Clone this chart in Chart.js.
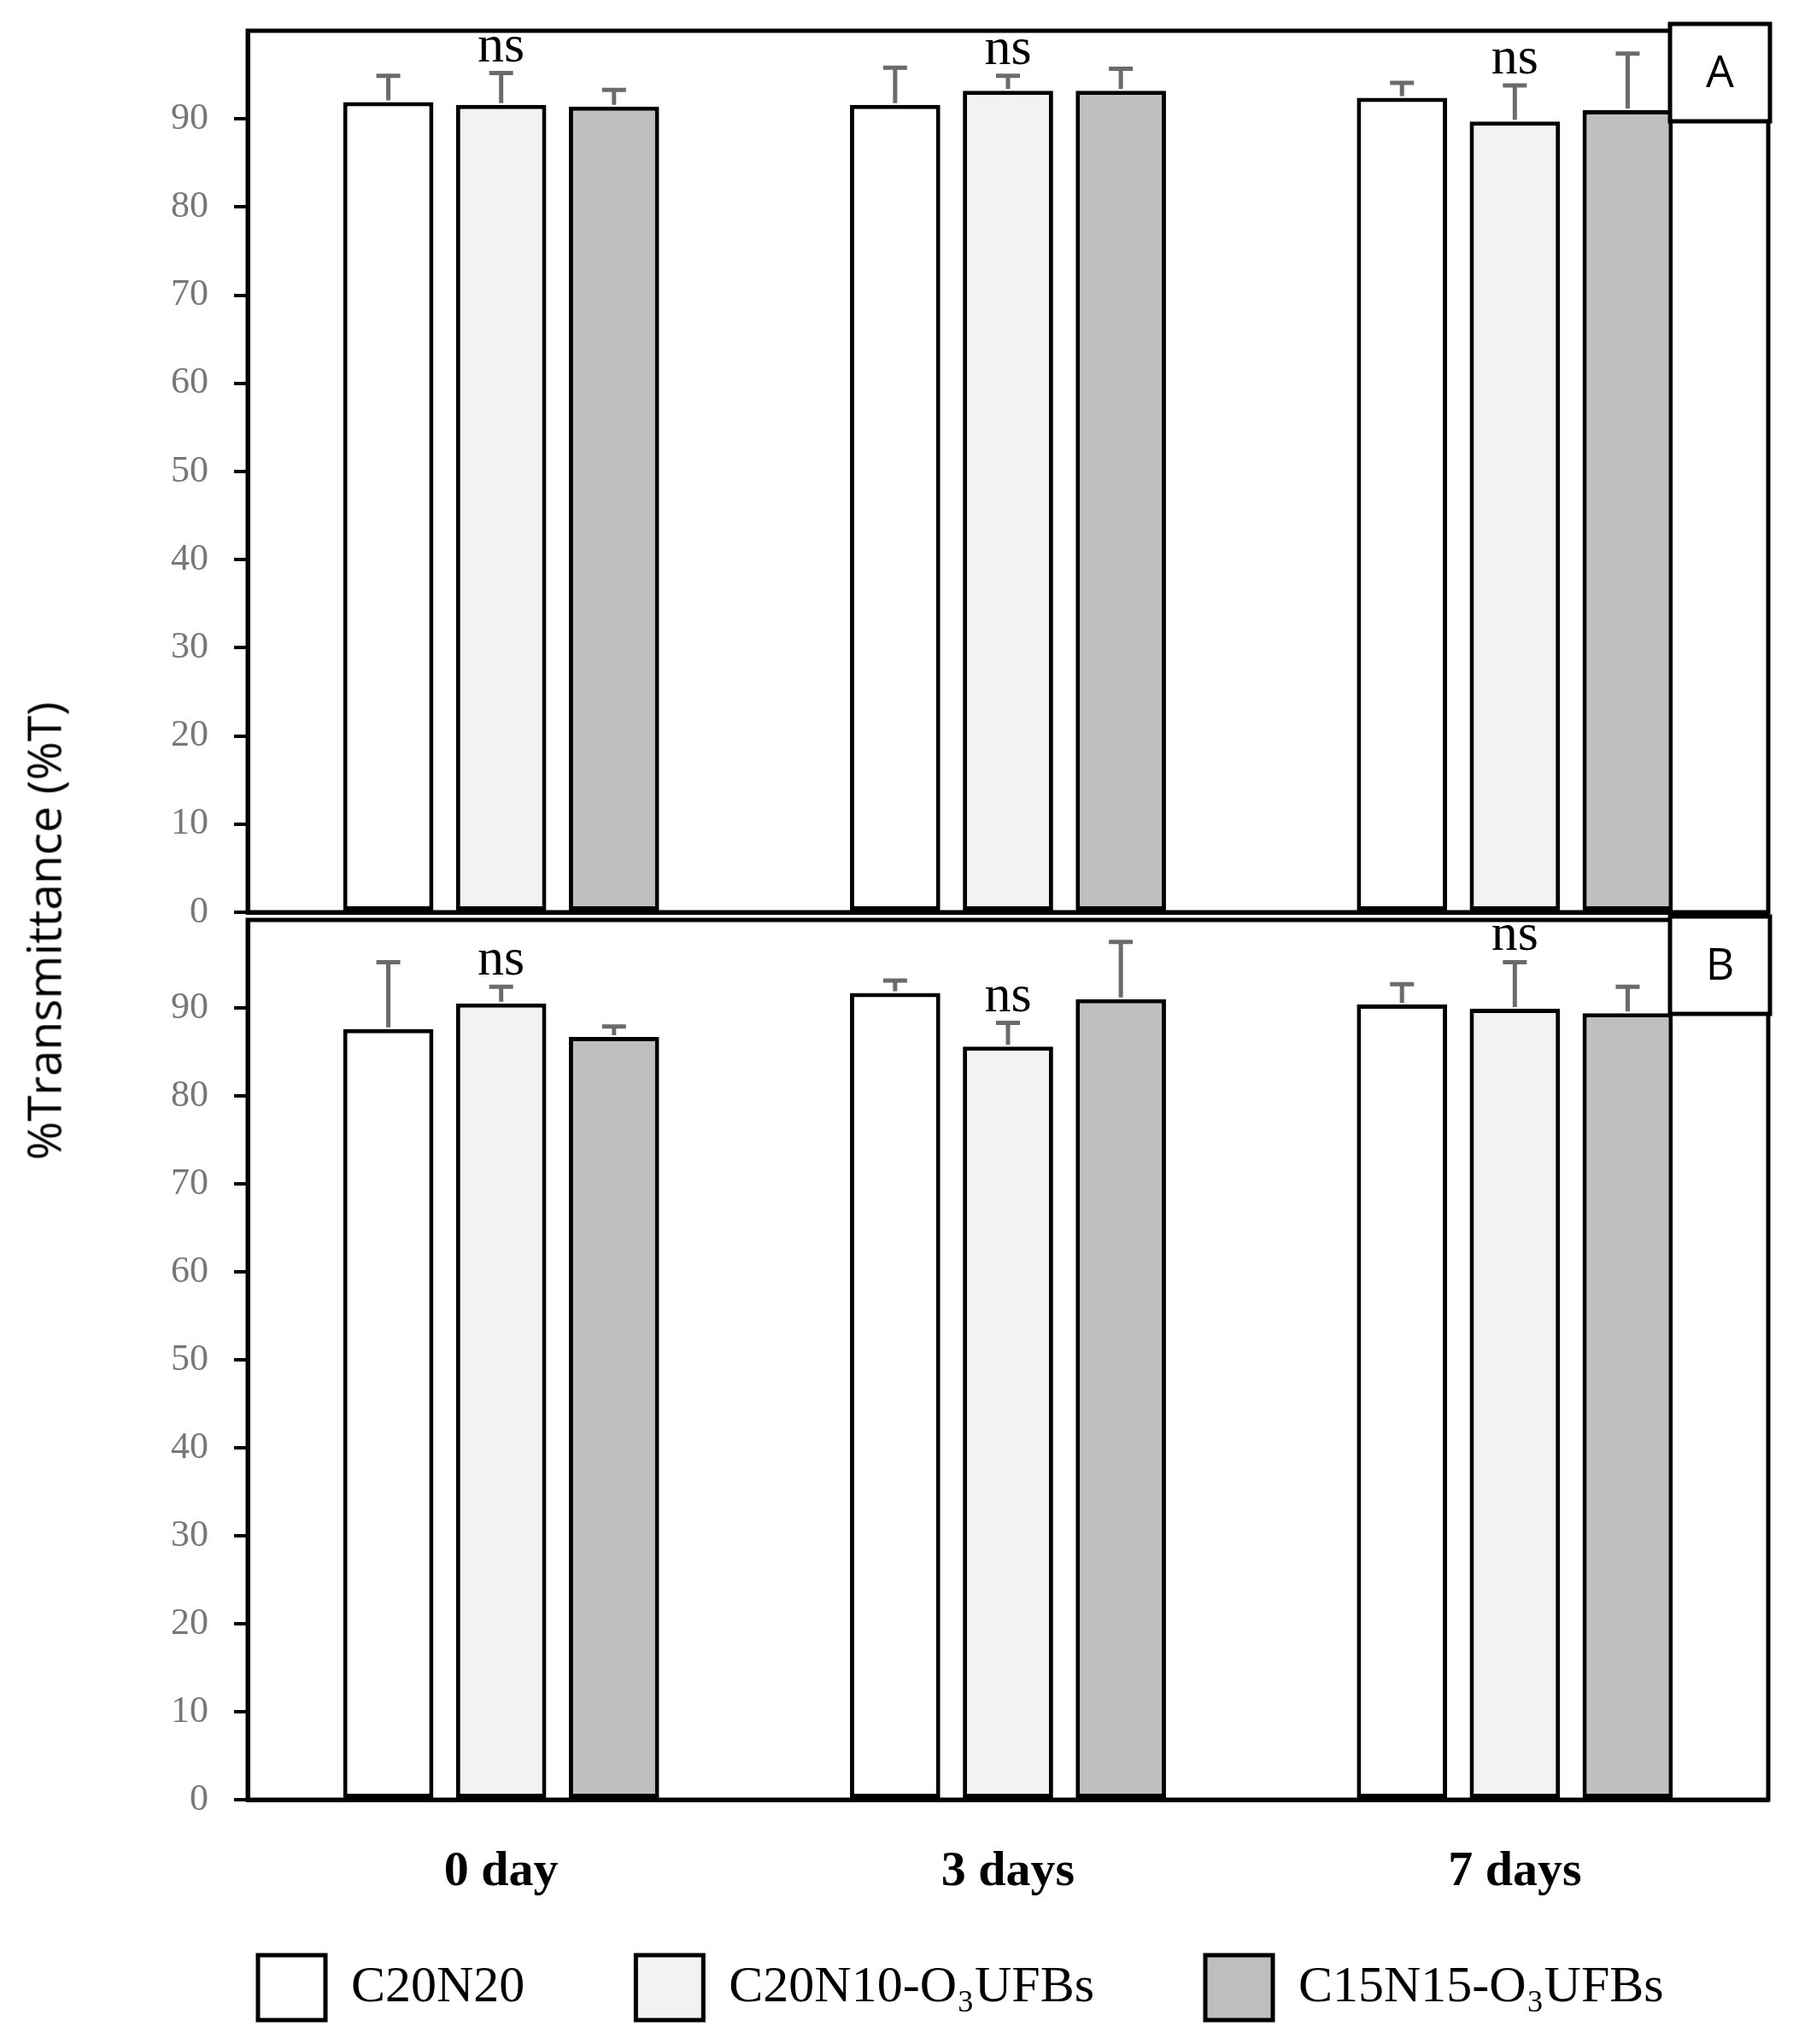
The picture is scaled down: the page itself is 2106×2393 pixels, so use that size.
<!DOCTYPE html>
<html>
<head>
<meta charset="utf-8">
<script src="https://cdn.jsdelivr.net/npm/chart.js@4.4.1/dist/chart.umd.min.js"></script>
<style>
  * { box-sizing: border-box; }
  body { margin: 0; background: #ffffff; width: 2106px; height: 2393px; position: relative; overflow: hidden; }
  .panel { position: absolute; left: 0; width: 2106px; }
  #panelA { top: 0; height: 1100px; }
  #panelB { top: 1070px; height: 1323px; }
  .ytitle {
    position: absolute;
    left: 50px;
    top: 1090px;
    transform: translate(-50%, -50%) rotate(-90deg);
    white-space: nowrap;
    font-family: 'Open Sans', sans-serif;
    font-size: 55px;
    color: #000;
  }
</style>
</head>
<body>
<div class="panel" id="panelA"><canvas id="chartA"></canvas></div>
<div class="panel" id="panelB"><canvas id="chartB"></canvas></div>
<div class="ytitle">%Transmittance (%T)</div>

<script>
const days = ["0 day", "3 days", "7 days"];
const seriesNames = ["C20N20", "C20N10-O\u2083UFBs", "C15N15-O\u2083UFBs"];
const seriesColors = ["#ffffff", "#f2f2f2", "#bfbfbf"];
const yTicks = [0, 10, 20, 30, 40, 50, 60, 70, 80, 90];

// panel A
const aC20N20 = [91.9, 91.6, 92.4];
const aC20N10 = [91.6, 93.2, 89.7];
const aC15N15 = [91.4, 93.2, 91.0];
const aErrC20N20 = [3.0, 4.2, 1.7];
const aErrC20N10 = [3.6, 1.7, 4.1];
const aErrC15N15 = [1.9, 2.5, 6.4];
const aSig = ["ns", "ns", "ns"];

// panel B
const bC20N20 = [87.6, 91.7, 90.4];
const bC20N10 = [90.5, 85.6, 89.9];
const bC15N15 = [86.7, 91.0, 89.4];
const bErrC20N20 = [7.6, 1.4, 2.3];
const bErrC20N10 = [1.9, 2.7, 5.3];
const bErrC15N15 = [1.2, 6.5, 3.0];
const bSig = ["ns", "ns", "ns"];

const serif = "'Liberation Serif', 'Times New Roman', serif";

function makeDatasets(values, errors) {
  return values.map((vals, i) => ({
    label: seriesNames[i],
    data: vals,
    errors: errors[i],
    backgroundColor: seriesColors[i],
    borderColor: "#000000",
    borderWidth: 5,
    borderSkipped: false,
    categoryPercentage: 0.668,
    barPercentage: 0.8
  }));
}

function noPad(scale) {
  scale.paddingTop = 0;
  scale.paddingBottom = 0;
  scale.paddingLeft = 0;
  scale.paddingRight = 0;
}

// frame, error bars, "ns" marks and the panel letter box
const panelExtras = {
  id: "panelExtras",
  afterLayout(chart) {
    // let the x labels hang below the (short) axis box
    chart.scales.x.bottom = chart.height;
  },
  afterDatasetsDraw(chart, args, opts) {
    const ctx = chart.ctx;
    const area = chart.chartArea;
    const y = chart.scales.y;
    ctx.save();

    ctx.strokeStyle = "#000";
    ctx.lineWidth = 5;
    ctx.strokeRect(area.left, area.top, area.right - area.left, area.bottom - area.top);

    ctx.strokeStyle = "#6b6b6b";
    ctx.lineWidth = 5;
    chart.data.datasets.forEach((ds, i) => {
      const meta = chart.getDatasetMeta(i);
      meta.data.forEach((bar, j) => {
        const top = y.getPixelForValue(ds.data[j]);
        const cap = y.getPixelForValue(ds.data[j] + ds.errors[j]);
        ctx.beginPath();
        ctx.moveTo(bar.x, top - 2);
        ctx.lineTo(bar.x, cap);
        ctx.moveTo(bar.x - 14, cap);
        ctx.lineTo(bar.x + 14, cap);
        ctx.stroke();
      });
    });

    const mid = chart.data.datasets[1];
    const midMeta = chart.getDatasetMeta(1);
    ctx.fillStyle = "#000";
    ctx.font = "62px " + serif;
    ctx.textAlign = "center";
    ctx.textBaseline = "alphabetic";
    opts.sig.forEach((txt, j) => {
      const cap = y.getPixelForValue(mid.data[j] + mid.errors[j]);
      ctx.fillText(txt, midMeta.data[j].x, cap - 14);
    });

    const bw = 117, bh = 114;
    const bx = area.right - bw + 2, by = area.top + opts.boxShift;
    ctx.fillStyle = "#fff";
    ctx.fillRect(bx, by, bw, bh);
    ctx.strokeStyle = "#000";
    ctx.lineWidth = 5;
    ctx.strokeRect(bx, by, bw, bh);
    ctx.fillStyle = "#000";
    ctx.font = "52px 'Open Sans', sans-serif";
    ctx.textBaseline = "middle";
    ctx.fillText(opts.letter, bx + bw / 2, by + bh / 2 + 2);
    ctx.restore();
  }
};

function yScale(width) {
  return {
    min: 0,
    max: 100,
    afterFit: (scale) => { scale.width = width; noPad(scale); },
    afterBuildTicks: (scale) => {
      scale.ticks = yTicks.map(v => ({ value: v }));
    },
    grid: {
      display: true,
      drawOnChartArea: false,
      drawTicks: true,
      tickLength: 16,
      color: "#000",
      lineWidth: 4
    },
    border: { display: true, color: "#000", width: 5 },
    ticks: {
      padding: 30,
      color: "#777777",
      font: { family: serif, size: 44 }
    }
  };
}

new Chart(document.getElementById("chartA"), {
  type: "bar",
  data: {
    labels: days,
    datasets: makeDatasets([aC20N20, aC20N10, aC15N15], [aErrC20N20, aErrC20N10, aErrC15N15])
  },
  options: {
    responsive: true,
    maintainAspectRatio: false,
    animation: false,
    layout: { padding: { top: 36, bottom: 32, left: 172, right: 36 } },
    plugins: {
      legend: { display: false },
      tooltip: { enabled: false },
      panelExtras: { letter: "A", sig: aSig, boxShift: -8 }
    },
    scales: {
      x: {
        afterFit: (scale) => { scale.height = 0; noPad(scale); },
        grid: { display: false, drawTicks: false },
        border: { display: true, color: "#000", width: 5 },
        ticks: { display: false }
      },
      y: yScale(118)
    }
  },
  plugins: [panelExtras]
});

new Chart(document.getElementById("chartB"), {
  type: "bar",
  data: {
    labels: days,
    datasets: makeDatasets([bC20N20, bC20N10, bC15N15], [bErrC20N20, bErrC20N10, bErrC15N15])
  },
  options: {
    responsive: true,
    maintainAspectRatio: false,
    animation: false,
    layout: { padding: { top: 7, bottom: 18, left: 172, right: 0 } },
    plugins: {
      legend: {
        display: true,
        position: "bottom",
        align: "start",
        labels: {
          boxWidth: 79,
          boxHeight: 76,
          padding: 130,
          color: "#000",
          font: { family: serif, size: 60 }
        }
      },
      tooltip: { enabled: false },
      panelExtras: { letter: "B", sig: bSig, boxShift: -4 }
    },
    scales: {
      x: {
        afterFit: (scale) => { scale.height = 52; noPad(scale); },
        grid: { display: false, drawTicks: false },
        border: { display: true, color: "#000", width: 5 },
        ticks: {
          padding: 50,
          color: "#000",
          font: { family: serif, size: 58, weight: "bold" }
        }
      },
      y: yScale(118),
      // empty spacer on the right so the legend can use the full width
      spacer: {
        type: "linear",
        position: "right",
        afterFit: (scale) => { scale.width = 36; noPad(scale); },
        grid: { display: false, drawTicks: false },
        border: { display: false },
        ticks: { display: false }
      }
    }
  },
  plugins: [panelExtras]
});
</script>
</body>
</html>
